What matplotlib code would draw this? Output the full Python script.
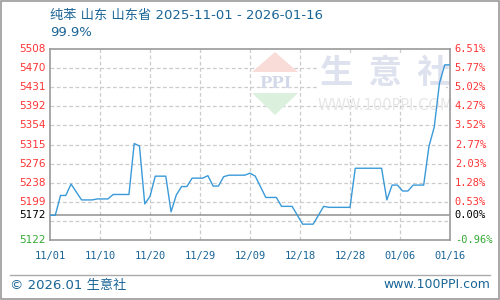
import numpy as np
import pandas as pd
import matplotlib
matplotlib.use("Agg")
import matplotlib.pyplot as plt
from matplotlib.patches import Rectangle, Polygon

plt.rcParams['font.family'] = ['DejaVu Sans', 'Noto Sans CJK SC']

# data (turning points of the price line)
dates = ["2025-11-01", "2025-11-02", "2025-11-03", "2025-11-04", "2025-11-05",
         "2025-11-07", "2025-11-09", "2025-11-10", "2025-11-12", "2025-11-13",
         "2025-11-16", "2025-11-17", "2025-11-18", "2025-11-19", "2025-11-20",
         "2025-11-21", "2025-11-23", "2025-11-24", "2025-11-25", "2025-11-26",
         "2025-11-27", "2025-11-28", "2025-11-30", "2025-12-01", "2025-12-02",
         "2025-12-03", "2025-12-04", "2025-12-05", "2025-12-08", "2025-12-09",
         "2025-12-10", "2025-12-12", "2025-12-14", "2025-12-15", "2025-12-17",
         "2025-12-19", "2025-12-21", "2025-12-23", "2025-12-24", "2025-12-28",
         "2025-12-29", "2026-01-03", "2026-01-04", "2026-01-05", "2026-01-06",
         "2026-01-07", "2026-01-08", "2026-01-09", "2026-01-11", "2026-01-12",
         "2026-01-13", "2026-01-14", "2026-01-15", "2026-01-16"]
prices = [5172, 5172, 5212, 5212, 5235,
          5203, 5203, 5205, 5205, 5214,
          5214, 5317, 5312, 5195, 5210,
          5251, 5251, 5179, 5213, 5230,
          5230, 5247, 5247, 5252, 5231,
          5231, 5250, 5253, 5253, 5257,
          5251, 5208, 5208, 5190, 5190,
          5154, 5154, 5190, 5188, 5188,
          5267, 5267, 5203, 5233, 5233,
          5221, 5221, 5233, 5233, 5311,
          5350, 5439, 5476, 5476]

base_price = 5172
y_low, y_high = 5122, 5508
left_labels = ["5508", "5470", "5431", "5392", "5354", "5315", "5276", "5238", "5199"]
right_labels = ["6.51%", "5.77%", "5.02%", "4.27%", "3.52%", "2.77%", "2.03%", "1.28%", "0.53%"]
x_labels = ["11/01", "11/10", "11/20", "11/29", "12/09", "12/18", "12/28", "01/06", "01/16"]

title = "纯苯 山东 山东省 2025-11-01 - 2026-01-16"
subtitle = "99.9%"

blue_text = "#1a6496"
red = "#ff3333"
green = "#33aa33"

t = pd.to_datetime(dates)
days = np.array((t - t[0]).days, dtype=float)
span = days[-1]

fig = plt.figure(figsize=(5, 3), dpi=100)
fig.patch.set_facecolor("white")
fig.patches.append(Rectangle((0.001, 0.002), 0.997, 0.995, transform=fig.transFigure,
                             fill=False, edgecolor="#999999", linewidth=1.2))

ax = fig.add_axes([50 / 500, 60 / 300, 400 / 500, 191 / 300])
ax.set_xlim(0, span)
ax.set_ylim(y_low, y_high)

# grid
levels = np.linspace(y_high, y_low, 11)
for v in levels[1:-1]:
    ax.axhline(v, color="#cccccc", linestyle=(0, (3, 2)), linewidth=0.9, zorder=1)
xt = np.linspace(0, span, len(x_labels))
for v in xt[1:-1]:
    ax.axvline(v, color="#cccccc", linestyle=(0, (3, 2)), linewidth=0.9, zorder=1)

# watermark
ax_t = ax.transAxes
def px(x, y):
    return ((x - 50) / 400, (240 - y) / 191)

ax.add_patch(Rectangle(px(318, 96), 128 / 400, 42 / 191, transform=ax_t,
                       facecolor="white", edgecolor="none", zorder=1.5))
ax.add_patch(Polygon([px(252, 72), px(298, 72), px(275, 52)], transform=ax_t,
                     facecolor="#f9dcd8", edgecolor="none", zorder=1.5))
ax.add_patch(Polygon([px(252, 93), px(298, 93), px(275, 115)], transform=ax_t,
                     facecolor="#dcf0de", edgecolor="none", zorder=1.5))
ax.text(*px(275, 83), "PPI", transform=ax_t, ha="center", va="center",
        fontsize=12, color="#d3d9e8", fontweight="bold", family="DejaVu Serif", zorder=1.6)
ax.text(*px(385, 73), "生  意  社", transform=ax_t, ha="center", va="center",
        fontsize=24, color="#dde2ee", family=["Noto Sans CJK SC"], fontweight="bold", zorder=1.6)
ax.text(*px(385, 105), "WWW.100PPI.COM", transform=ax_t, ha="center", va="center",
        fontsize=10.5, color="#e6e6e6", zorder=1.6)

ax.axhline(base_price, color="#999999", linewidth=1.2, zorder=2)
ax.plot(days, prices, color="#3a9ad9", linewidth=1.0, zorder=3)

for s in ax.spines.values():
    s.set_color("#999999")
    s.set_linewidth(1.2)

ax.set_xticks(xt)
ax.set_xticklabels(x_labels, family="DejaVu Sans Mono", fontsize=7.5, color=blue_text)
ax.tick_params(axis="x", length=0, pad=8)
ax.set_yticks([])

# y labels on both sides
for v, ll, rl in zip(levels[:-2], left_labels, right_labels):
    ax.text(-0.012, v, ll, transform=ax.get_yaxis_transform(), ha="right", va="center",
            fontsize=7.5, color=red)
    ax.text(1.012, v, rl, transform=ax.get_yaxis_transform(), ha="left", va="center",
            fontsize=7.5, color=red, family="DejaVu Sans Mono")
ax.text(-0.012, base_price, str(base_price), transform=ax.get_yaxis_transform(),
        ha="right", va="center", fontsize=7.5, color="black")
ax.text(1.012, base_price, "0.00%", transform=ax.get_yaxis_transform(),
        ha="left", va="center", fontsize=7.5, color="black", family="DejaVu Sans Mono")
ax.text(-0.012, y_low, str(y_low), transform=ax.get_yaxis_transform(),
        ha="right", va="center", fontsize=7.5, color=green)
ax.text(1.012, y_low, "-0.96%", transform=ax.get_yaxis_transform(),
        ha="left", va="center", fontsize=7.5, color=green, family="DejaVu Sans Mono")

# header and footer
fig.text(50 / 500, 1 - 15 / 300, title, ha="left", va="center", fontsize=9.5, color=blue_text)
fig.text(50 / 500, 1 - 33 / 300, subtitle, ha="left", va="center", fontsize=9.5, color=blue_text)
fig.add_artist(plt.Line2D([10 / 500, 490 / 500], [1 - 275 / 300] * 2, color="#aaaaaa",
                          linewidth=1, transform=fig.transFigure))
fig.text(10 / 500, 1 - 285 / 300, "© 2026.01 生意社", ha="left", va="center",
         fontsize=9.5, color=blue_text)
fig.text(490 / 500, 1 - 285 / 300, "www.100PPI.com", ha="right", va="center",
         fontsize=9, color=blue_text)

fig.savefig("out.png", dpi=100, facecolor="white")
